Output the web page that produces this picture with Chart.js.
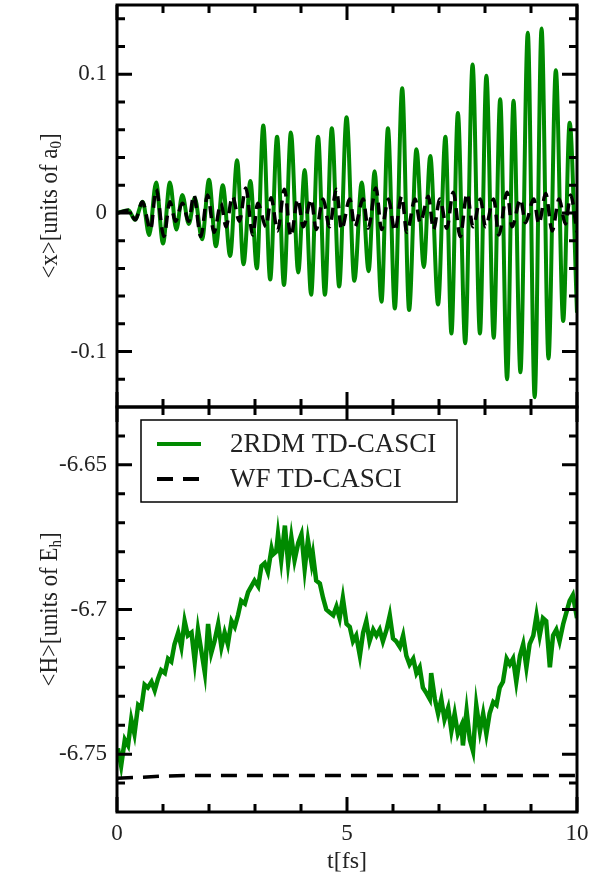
<!DOCTYPE html>
<html lang="en">
<head>
<meta charset="UTF-8" />
<title>TD-CASCI dipole and energy</title>
<script src="https://cdn.jsdelivr.net/npm/chart.js"></script>
<style>
  body { margin: 0; background: #fff; }
  #wrap { position: relative; width: 609px; height: 876px; }
  #wrap canvas { position: absolute; left: 0; }
  #topChart { top: 0; }
  #bottomChart { top: 400px; }
</style>
</head>
<body>
<div id="wrap">
  <canvas id="topChart" width="609" height="410"></canvas>
  <canvas id="bottomChart" width="609" height="476"></canvas>
</div>
<script>
// ---- data ----
// top panel: <x> (units of a0) vs t (fs), peaks and troughs
const tX2rdm = [0, 0.25, 0.39, 0.56, 0.70, 0.85, 1.00, 1.15, 1.29, 1.42,
  1.56, 1.69, 1.85, 2.00, 2.15, 2.30, 2.46, 2.61, 2.75, 2.90,
  3.04, 3.18, 3.33, 3.48, 3.63, 3.78, 3.94, 4.08, 4.22, 4.37,
  4.52, 4.67, 4.83, 4.99, 5.16, 5.32, 5.47, 5.60, 5.75, 5.89,
  6.04, 6.20, 6.35, 6.51, 6.67, 6.81, 6.98, 7.14, 7.27, 7.41,
  7.57, 7.73, 7.89, 8.03, 8.19, 8.33, 8.48, 8.62, 8.77, 8.93,
  9.08, 9.23, 9.38, 9.54, 9.70, 9.84, 10.0];
const x2rdm = [0, 0.002, -0.005, 0.008, -0.016, 0.022, -0.022, 0.022, -0.012, 0.013,
  -0.008, 0.011, -0.019, 0.024, -0.024, 0.020, -0.031, 0.038, -0.037, 0.023,
  -0.040, 0.063, -0.048, 0.055, -0.052, 0.058, -0.043, 0.031, -0.059, 0.055,
  -0.059, 0.061, -0.053, 0.069, -0.049, 0.022, -0.042, 0.030, -0.064, 0.061,
  -0.069, 0.090, -0.070, 0.046, -0.039, 0.041, -0.066, 0.055, -0.087, 0.072,
  -0.094, 0.107, -0.087, 0.099, -0.090, 0.082, -0.120, 0.081, -0.115, 0.130,
  -0.133, 0.133, -0.105, 0.103, -0.078, 0.065, -0.072];

const tXwf = [0, 0.25, 0.40, 0.55, 0.73, 0.85, 1.02, 1.15, 1.27, 1.42,
  1.56, 1.67, 1.82, 1.97, 2.11, 2.26, 2.37, 2.51, 2.66, 2.80,
  2.95, 3.06, 3.24, 3.35, 3.49, 3.64, 3.78, 3.93, 4.05, 4.22,
  4.33, 4.48, 4.62, 4.77, 4.88, 5.06, 5.17, 5.35, 5.46, 5.63,
  5.75, 5.90, 6.04, 6.19, 6.30, 6.48, 6.59, 6.77, 6.88, 7.02,
  7.17, 7.31, 7.46, 7.61, 7.74, 7.90, 8.01, 8.19, 8.30, 8.48,
  8.59, 8.77, 8.88, 9.06, 9.17, 9.32, 9.46, 9.61, 9.75, 9.86,
  10.0];
const xWf = [0, 0.002, -0.005, 0.008, -0.012, 0.017, -0.017, 0.008, -0.006, 0.007,
  -0.006, 0.013, -0.017, 0.013, -0.014, 0.007, -0.010, 0.012, -0.006, 0.018,
  -0.016, 0.007, -0.010, 0.011, -0.013, 0.017, -0.017, 0.010, -0.010, 0.010,
  -0.012, 0.010, -0.010, 0.017, -0.012, 0.010, -0.010, 0.010, -0.011, 0.018,
  -0.012, 0.010, -0.013, 0.012, -0.014, 0.010, -0.007, 0.012, -0.012, 0.010,
  -0.011, 0.015, -0.017, 0.014, -0.010, 0.010, -0.010, 0.010, -0.016, 0.015,
  -0.010, 0.010, -0.007, 0.010, -0.008, 0.014, -0.013, 0.010, -0.008, 0.013,
  -0.014];

// bottom panel: <H> (units of Eh) vs t (fs)
const tH2rdm = [0.00, 0.02, 0.09, 0.17, 0.24, 0.31, 0.38, 0.46, 0.53, 0.60,
  0.67, 0.75, 0.82, 0.89, 0.96, 1.04, 1.11, 1.18, 1.25, 1.33,
  1.40, 1.47, 1.54, 1.62, 1.69, 1.76, 1.83, 1.91, 1.98, 2.05,
  2.12, 2.20, 2.27, 2.34, 2.41, 2.49, 2.56, 2.63, 2.70, 2.78,
  2.85, 2.92, 2.99, 3.07, 3.14, 3.21, 3.28, 3.36, 3.39, 3.46,
  3.50, 3.57, 3.65, 3.72, 3.79, 3.86, 3.94, 4.01, 4.08, 4.15,
  4.23, 4.26, 4.33, 4.41, 4.48, 4.55, 4.62, 4.70, 4.77, 4.84,
  4.91, 4.99, 5.06, 5.13, 5.20, 5.28, 5.35, 5.42, 5.49, 5.57,
  5.64, 5.71, 5.78, 5.86, 5.93, 6.00, 6.07, 6.15, 6.22, 6.29,
  6.36, 6.44, 6.51, 6.58, 6.65, 6.73, 6.80, 6.83, 6.91, 6.98,
  7.05, 7.12, 7.20, 7.27, 7.34, 7.41, 7.49, 7.52, 7.60, 7.67,
  7.74, 7.81, 7.89, 7.96, 8.03, 8.10, 8.18, 8.25, 8.32, 8.39,
  8.47, 8.54, 8.61, 8.68, 8.76, 8.83, 8.90, 8.97, 9.05, 9.12,
  9.19, 9.26, 9.33, 9.41, 9.48, 9.55, 9.62, 9.70, 9.77, 9.84,
  9.91, 10.0];
const h2rdm = [-6.749, -6.748, -6.754, -6.745, -6.747, -6.738, -6.743, -6.733, -6.734, -6.726,
  -6.727, -6.725, -6.728, -6.724, -6.721, -6.722, -6.717, -6.718, -6.712, -6.708,
  -6.713, -6.704, -6.709, -6.708, -6.718, -6.707, -6.714, -6.722, -6.705, -6.715,
  -6.711, -6.705, -6.713, -6.708, -6.712, -6.704, -6.706, -6.702, -6.697, -6.698,
  -6.694, -6.692, -6.690, -6.692, -6.685, -6.684, -6.687, -6.679, -6.681, -6.680,
  -6.674, -6.683, -6.671, -6.684, -6.675, -6.683, -6.677, -6.674, -6.686, -6.676,
  -6.684, -6.681, -6.690, -6.691, -6.696, -6.700, -6.701, -6.702, -6.699, -6.703,
  -6.696, -6.705, -6.706, -6.711, -6.709, -6.716, -6.708, -6.704, -6.711, -6.707,
  -6.709, -6.707, -6.711, -6.707, -6.702, -6.710, -6.711, -6.713, -6.709, -6.716,
  -6.719, -6.717, -6.722, -6.720, -6.727, -6.729, -6.731, -6.722, -6.731, -6.736,
  -6.731, -6.738, -6.734, -6.742, -6.736, -6.743, -6.740, -6.747, -6.735, -6.745,
  -6.749, -6.733, -6.742, -6.736, -6.743, -6.736, -6.732, -6.733, -6.727, -6.725,
  -6.717, -6.719, -6.717, -6.725, -6.716, -6.712, -6.720, -6.712, -6.709, -6.702,
  -6.709, -6.703, -6.704, -6.720, -6.709, -6.707, -6.711, -6.705, -6.701, -6.697,
  -6.695, -6.703];

const tHwf = [0, 0.5, 1.0, 1.5, 10];
const hWf = [-6.7583, -6.7580, -6.7576, -6.7574, -6.7574];

// axis ticks
const tMajor = [0, 5, 10];
const tMinor = [1, 2, 3, 4, 6, 7, 8, 9];
const xMajor = [-0.1, 0, 0.1];
const xMinor = [-0.12, -0.08, -0.06, -0.04, -0.02, 0.02, 0.04, 0.06, 0.08, 0.12, 0.14];
const hMajor = [-6.75, -6.7, -6.65];
const hMinor = [-6.76, -6.74, -6.73, -6.72, -6.71, -6.69, -6.68, -6.67, -6.66, -6.64];

const labels = ['2RDM TD-CASCI', 'WF TD-CASCI'];

const GREEN = '#008a00';
const TEXT = '#222';
const SERIF = '"Liberation Serif", "DejaVu Serif", serif';

const pts = (xs, ys) => xs.map((x, i) => ({ x: x, y: ys[i] }));

// frame with inward ticks on all four sides, plus the rotated y title
const framePlugin = {
  id: 'frame',
  afterDraw(chart, args, o) {
    const { ctx, chartArea: a, scales: { x, y } } = chart;
    ctx.save();
    ctx.strokeStyle = '#000';
    ctx.lineWidth = 3;
    ctx.beginPath();
    const xt = (vals, len) => vals.forEach(v => {
      const p = x.getPixelForValue(v);
      ctx.moveTo(p, a.top); ctx.lineTo(p, a.top + len);
      ctx.moveTo(p, a.bottom); ctx.lineTo(p, a.bottom - len);
    });
    const yt = (vals, len) => vals.forEach(v => {
      const p = y.getPixelForValue(v);
      ctx.moveTo(a.left, p); ctx.lineTo(a.left + len, p);
      ctx.moveTo(a.right, p); ctx.lineTo(a.right - len, p);
    });
    xt(o.xMajor, 15); xt(o.xMinor, 8);
    yt(o.yMajor, 15); yt(o.yMinor, 8);
    ctx.stroke();
    ctx.strokeRect(a.left, a.top, a.right - a.left, a.bottom - a.top);

    // y title with subscript, slightly condensed like the original
    ctx.translate(o.titleX, (a.top + a.bottom) / 2);
    ctx.rotate(-Math.PI / 2);
    ctx.scale(0.88, 1);
    ctx.fillStyle = TEXT;
    ctx.textBaseline = 'middle';
    ctx.font = '26px ' + SERIF;
    const w1 = ctx.measureText(o.title).width;
    ctx.font = '17px ' + SERIF;
    const w2 = ctx.measureText(o.sub).width;
    ctx.font = '26px ' + SERIF;
    const w3 = ctx.measureText(']').width;
    let cx = -(w1 + w2 + w3) / 2;
    ctx.textAlign = 'left';
    ctx.fillText(o.title, cx, 0);
    cx += w1;
    ctx.font = '17px ' + SERIF;
    ctx.fillText(o.sub, cx, 7);
    cx += w2;
    ctx.font = '26px ' + SERIF;
    ctx.fillText(']', cx, 0);
    ctx.restore();
  }
};

// boxed legend inside the lower panel
const boxLegend = {
  id: 'boxLegend',
  afterDraw(chart, args, o) {
    const ctx = chart.ctx;
    ctx.save();
    ctx.fillStyle = '#fff';
    ctx.fillRect(o.left, o.top, o.width, o.height);
    ctx.strokeStyle = '#000';
    ctx.lineWidth = 1.5;
    ctx.strokeRect(o.left, o.top, o.width, o.height);
    chart.data.datasets.forEach((ds, i) => {
      const yy = o.top + o.rowTop + i * o.rowGap;
      ctx.beginPath();
      ctx.strokeStyle = ds.borderColor;
      ctx.lineWidth = 4;
      ctx.setLineDash(ds.borderDash || []);
      ctx.moveTo(o.left + 16, yy);
      ctx.lineTo(o.left + 60, yy);
      ctx.stroke();
      ctx.setLineDash([]);
      ctx.fillStyle = TEXT;
      ctx.font = '27px ' + SERIF;
      ctx.textBaseline = 'middle';
      ctx.textAlign = 'left';
      ctx.fillText(ds.label, o.left + 89, yy + 1);
    });
    ctx.restore();
  }
};

const tickFont = { family: SERIF, size: 23 };

const yScale = (min, max, major) => ({
  min: min, max: max,
  afterFit: s => { s.width = 117; s.paddingTop = 0; s.paddingBottom = 0; },
  afterBuildTicks: s => { s.ticks = major.map(v => ({ value: v })); },
  ticks: { callback: v => String(v), font: tickFont, color: TEXT, padding: 10 },
  grid: { display: false, drawTicks: false },
  border: { display: false }
});

new Chart(document.getElementById('topChart'), {
  type: 'line',
  data: {
    datasets: [
      { label: labels[0], data: pts(tX2rdm, x2rdm), borderColor: GREEN, borderWidth: 4,
        pointRadius: 0, cubicInterpolationMode: 'monotone', order: 1 },
      { label: labels[1], data: pts(tXwf, xWf), borderColor: '#000', borderWidth: 3.5,
        borderDash: [12, 7], pointRadius: 0, cubicInterpolationMode: 'monotone', order: 0 }
    ]
  },
  options: {
    responsive: false, animation: false, devicePixelRatio: 1,
    layout: { padding: { left: 0, right: 32, top: 5, bottom: 3 } },
    plugins: {
      legend: { display: false }, tooltip: { enabled: false },
      frame: { xMajor: tMajor, xMinor: tMinor, yMajor: xMajor, yMinor: xMinor,
               title: '<x>[units of a', sub: '0', titleX: 50 }
    },
    scales: {
      x: { type: 'linear', min: 0, max: 10, display: false },
      y: yScale(-0.14, 0.15, xMajor)
    }
  },
  plugins: [framePlugin]
});

new Chart(document.getElementById('bottomChart'), {
  type: 'line',
  data: {
    datasets: [
      { label: labels[0], data: pts(tH2rdm, h2rdm), borderColor: GREEN, borderWidth: 4.5,
        pointRadius: 0, tension: 0, order: 1 },
      { label: labels[1], data: pts(tHwf, hWf), borderColor: '#000', borderWidth: 3.5,
        borderDash: [16, 10], pointRadius: 0, tension: 0, order: 0 }
    ]
  },
  options: {
    responsive: false, animation: false, devicePixelRatio: 1,
    layout: { padding: { left: 0, right: 32, top: 7, bottom: 0 } },
    plugins: {
      legend: { display: false }, tooltip: { enabled: false },
      frame: { xMajor: tMajor, xMinor: tMinor, yMajor: hMajor, yMinor: hMinor,
               title: '<H>[units of E', sub: 'h', titleX: 50 },
      boxLegend: { left: 141, top: 20, width: 316, height: 82, rowTop: 24, rowGap: 35 }
    },
    scales: {
      x: {
        type: 'linear', min: 0, max: 10,
        afterFit: s => { s.height = 64; s.paddingLeft = 0; s.paddingRight = 0; },
        afterBuildTicks: s => { s.ticks = tMajor.map(v => ({ value: v })); },
        ticks: { callback: v => String(v), font: tickFont, color: TEXT, padding: 8, maxRotation: 0 },
        grid: { display: false, drawTicks: false },
        border: { display: false },
        title: { display: true, text: 't[fs]', font: { family: SERIF, size: 24 }, color: TEXT,
                 padding: { top: 0, bottom: 0 } }
      },
      y: yScale(-6.77, -6.63, hMajor)
    }
  },
  plugins: [framePlugin, boxLegend]
});
</script>
</body>
</html>
